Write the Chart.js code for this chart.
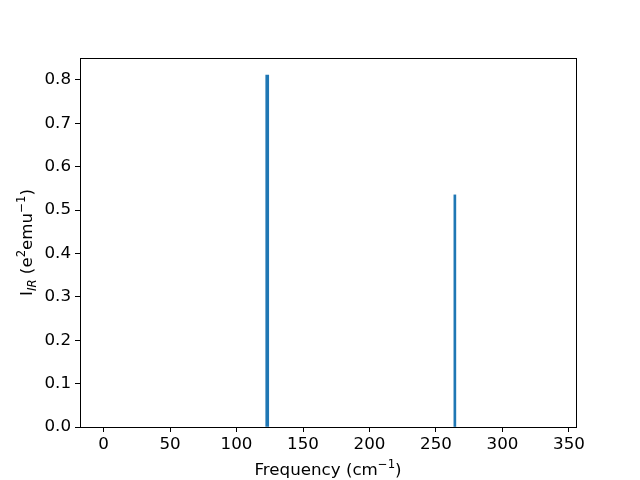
<!DOCTYPE html>
<html>
<head>
<meta charset="utf-8">
<script src="https://cdn.jsdelivr.net/npm/chart.js@4/dist/chart.umd.min.js"></script>
<style>
  html, body { margin: 0; padding: 0; background: #fff; }
  #wrap { width: 640px; height: 480px; }
</style>
</head>
<body>
<div id="wrap"><canvas id="irChart" width="640" height="480"></canvas></div>
<script>
'use strict';

// peak positions (cm^-1) and intensities
const freqs       = [123.1, 264.2];
const intensities = [0.811, 0.535];
const xTicks      = [0, 50, 100, 150, 200, 250, 300, 350];
const yTicks      = [0, 0.1, 0.2, 0.3, 0.4, 0.5, 0.6, 0.7, 0.8];

const FONT = '"DejaVu Sans", sans-serif';
const SIZE = 16.7;
const SMALL = 11.7;

// draw a line of text with sub/superscripts, centred at (0,0) baseline
function drawRich(ctx, parts) {
  const fontOf = (p) => `${p.italic ? 'italic ' : ''}${p.sub || p.sup ? SMALL : SIZE}px ${FONT}`;
  const widths = parts.map((p) => {
    ctx.font = fontOf(p);
    return ctx.measureText(p.t).width;
  });
  const total = widths.reduce((a, b) => a + b, 0);
  let x = -total / 2;
  parts.forEach((p, i) => {
    ctx.font = fontOf(p);
    const dy = p.sup ? -7 : p.sub ? 4 : 0;
    ctx.fillText(p.t, x, dy);
    x += widths[i];
  });
}

const frame = {
  id: 'frame',
  afterDraw(chart) {
    const { ctx, chartArea: a } = chart;
    ctx.save();
    ctx.strokeStyle = '#000';
    ctx.lineWidth = 1;
    ctx.strokeRect(a.left + 0.5, a.top + 0.5, a.right - a.left, a.bottom - a.top);

    ctx.fillStyle = '#000';
    ctx.textAlign = 'left';
    ctx.textBaseline = 'alphabetic';

    // x title
    ctx.save();
    ctx.translate((a.left + a.right) / 2, 475);
    drawRich(ctx, [{ t: 'Frequency (cm' }, { t: '\u22121', sup: true }, { t: ')' }]);
    ctx.restore();

    // y title
    ctx.save();
    ctx.translate(32, (a.top + a.bottom) / 2);
    ctx.rotate(-Math.PI / 2);
    drawRich(ctx, [
      { t: 'I' }, { t: 'IR', sub: true, italic: true },
      { t: ' (e' }, { t: '2', sup: true }, { t: 'emu' }, { t: '\u22121', sup: true }, { t: ')' },
    ]);
    ctx.restore();
    ctx.restore();
  },
};

new Chart(document.getElementById('irChart').getContext('2d'), {
  type: 'bar',
  data: {
    datasets: [
      { data: [{ x: freqs[0], y: intensities[0] }], backgroundColor: '#1f77b4', barThickness: 3 },
      { data: [{ x: freqs[1], y: intensities[1] }], backgroundColor: '#1f77b4', barThickness: 2 },
    ],
  },
  options: {
    responsive: false,
    animation: false,
    grouped: false,
    layout: { padding: { left: 0, right: 64, top: 58, bottom: 0 } },
    plugins: { legend: { display: false }, tooltip: { enabled: false } },
    scales: {
      x: {
        type: 'linear',
        min: -17.7,
        max: 355.3,
        offset: false,
        afterFit: (s) => { s.height = 53; },
        afterBuildTicks: (s) => { s.ticks = xTicks.map((v) => ({ value: v })); },
        grid: { offset: false, drawOnChartArea: false, drawTicks: true, tickLength: 5, color: '#000' },
        border: { display: true, color: '#000' },
        ticks: { color: '#000', font: { family: FONT, size: SIZE }, padding: 3, maxRotation: 0,
                 callback: (v) => String(v) },
      },
      y: {
        min: 0,
        max: 0.8505,
        afterFit: (s) => { s.width = 80; },
        afterBuildTicks: (s) => { s.ticks = yTicks.map((v) => ({ value: v })); },
        grid: { drawOnChartArea: false, drawTicks: true, tickLength: 5, color: '#000' },
        border: { display: true, color: '#000' },
        ticks: { color: '#000', font: { family: FONT, size: SIZE }, padding: 4,
                 callback: (v) => Number(v).toFixed(1) },
      },
    },
  },
  plugins: [frame],
});
</script>
</body>
</html>
